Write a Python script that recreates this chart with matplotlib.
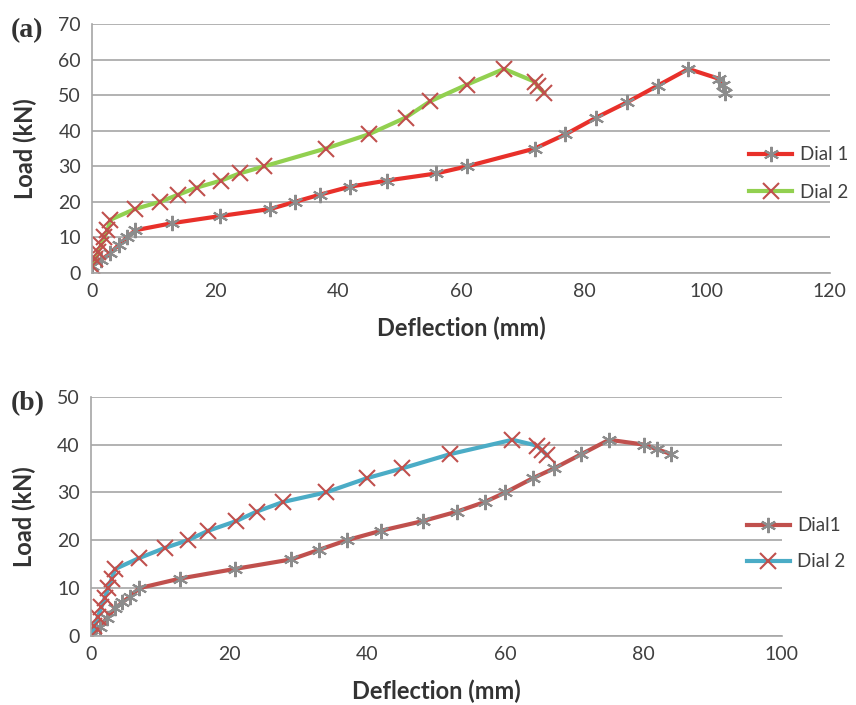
import matplotlib.pyplot as plt

# (a) load-deflection readings
a_d1_x = [0, 1.5, 3, 4.4, 5.7, 7, 13, 20.8, 29, 33, 37, 42, 48, 56, 61, 72, 77, 82, 87, 92, 97, 102, 102.6, 103]
a_d1_y = [2, 3.7, 5.6, 8, 10, 12, 14, 16, 18, 20, 22, 24.3, 26, 28, 30, 35, 39, 43.7, 48, 52.7, 57.4, 54.6, 53, 50.7]
a_d2_x = [0, 0.5, 1, 1.5, 2, 2.5, 3, 7, 11, 14, 17, 21, 24, 28, 38, 45, 51, 55, 61, 67, 72, 72.5, 73.5]
a_d2_y = [2, 4, 6, 8, 10, 12, 15, 18, 20, 22, 24, 26, 28, 30, 35, 39, 43.7, 48.3, 53, 57.4, 53.8, 52.5, 50.7]

# (b) load-deflection readings
b_d1_x = [0, 1.3, 2.3, 3.5, 4.5, 5.6, 7, 12.9, 20.8, 29, 33, 37, 42, 48, 53, 57, 60, 64, 67, 71, 75, 80, 82, 84]
b_d1_y = [0, 1.9, 3.8, 5.8, 7, 8.2, 10, 12, 14, 16, 18, 20, 22, 24, 26, 28, 30, 33, 35, 38, 41, 40, 39, 38]
b_d2_x = [0, 0.5, 1, 1.5, 2, 2.5, 3, 3.5, 7, 10.7, 14, 17, 21, 24, 27.8, 34, 40, 45, 52, 61, 64.5, 65.3, 66]
b_d2_y = [0, 2, 4, 6, 8, 10, 12, 14, 16.3, 18.4, 20, 22, 24, 26, 28, 30, 33, 35, 38, 41, 39.8, 38.8, 37.8]

plt.rcParams['font.family'] = ['Lato', 'DejaVu Sans']

fig = plt.figure(figsize=(8.56, 7.05), dpi=100)
ax1 = fig.add_axes([0.1075, 0.6128, 0.862, 0.353])
ax2 = fig.add_axes([0.1063, 0.0979, 0.807, 0.3394])

mk = (6, 2, 0)


def style(ax, xmax, ymax, ystep, xstep):
    ax.set_xlim(0, xmax)
    ax.set_ylim(0, ymax)
    ax.set_xticks(range(0, xmax + 1, xstep))
    ax.set_yticks(range(0, ymax + 1, ystep))
    ax.grid(axis='y', color='#a6a6a6', lw=1.2)
    ax.set_axisbelow(True)
    for s in ['top', 'right']:
        ax.spines[s].set_visible(False)
    for s in ['left', 'bottom']:
        ax.spines[s].set_color('#a6a6a6')
        ax.spines[s].set_linewidth(1.2)
    ax.tick_params(length=0, labelsize=14, colors='#404040')
    ax.tick_params(axis='x', pad=7)
    ax.tick_params(axis='y', pad=8)
    ax.set_xlabel('Deflection (mm)', fontsize=17, fontweight='bold', color='#333333', labelpad=12)
    ax.set_ylabel('Load (kN)', fontsize=17, fontweight='bold', color='#333333', labelpad=15)


style(ax1, 120, 70, 10, 20)
ax1.plot(a_d1_x, a_d1_y, color='#e8302a', lw=3, marker=mk, ms=11, mec='#8c8c8c', mew=1.5, label='Dial 1')
ax1.plot(a_d2_x, a_d2_y, color='#92d050', lw=3, marker='x', ms=12, mec='#c0504d', mew=1.5, label='Dial 2')
ax1.legend(loc='center left', bbox_to_anchor=(0.868, 0.40), frameon=False, fontsize=13.5,
           handlelength=2.3, labelspacing=1.1, handletextpad=0.4, labelcolor='#404040')

style(ax2, 100, 50, 10, 20)
ax2.plot(b_d1_x, b_d1_y, color='#c0504d', lw=3, marker=mk, ms=11, mec='#8c8c8c', mew=1.5, label='Dial1')
ax2.plot(b_d2_x, b_d2_y, color='#4bacc6', lw=3, marker='x', ms=12, mec='#c0504d', mew=1.5, label='Dial 2')
ax2.legend(loc='center left', bbox_to_anchor=(0.925, 0.385), frameon=False, fontsize=13.5,
           handlelength=2.3, labelspacing=1.0, handletextpad=0.4, labelcolor='#404040')

fig.text(0.012, 0.957, '(a)', fontsize=20, fontweight='bold', family='Liberation Serif', color='#333333', va='center')
fig.text(0.012, 0.428, '(b)', fontsize=20, fontweight='bold', family='Liberation Serif', color='#333333', va='center')

fig.savefig('out.png')
